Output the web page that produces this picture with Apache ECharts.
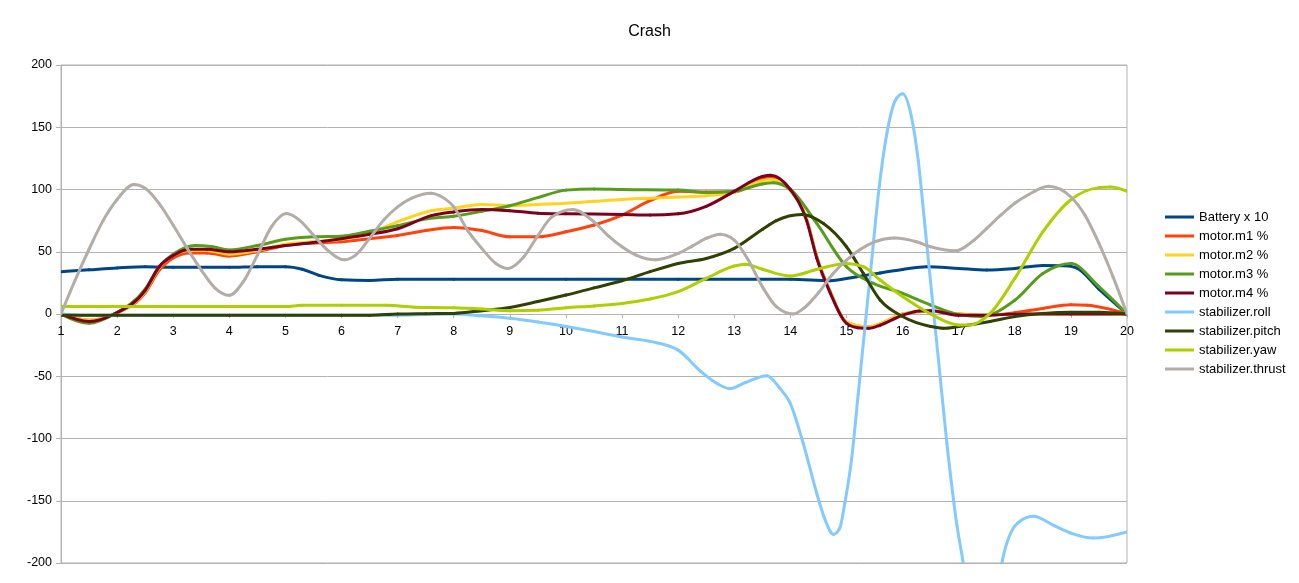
<!DOCTYPE html>
<html>
<head>
<meta charset="utf-8">
<script src="https://cdn.jsdelivr.net/npm/echarts@6/dist/echarts.min.js"></script>
<style>
html,body{margin:0;padding:0;background:#fff;}
#c{width:1299px;height:583px;}
</style>
</head>
<body>
<div id="c"></div>
<script>
var xTicks = {min: 1, max: 20, interval: 1};
var yTicks = {min: -200, max: 200, interval: 50};
var seriesNames = ['Battery x 10','motor.m1 %','motor.m2 %','motor.m3 %','motor.m4 %','stabilizer.roll','stabilizer.pitch','stabilizer.yaw','stabilizer.thrust'];

var battery = [[1,34],[1.5,35.5],[2,37],[2.5,38],[3,37.5],[4,37.5],[4.5,38],[5,38],[5.3,36],[5.6,31],[6,27.5],[6.5,27],[7,28],[8,28],[10,28],[12,28],[14,28],[14.71,26.7],[15.18,30],[15.6,33],[16,35.8],[16.43,38],[17,36.6],[17.5,35.3],[18,36.6],[18.5,39],[18.9,38.8],[19.1,37],[19.5,20],[20,0]];
var m1 = [[1,0],[1.5,-5],[1.95,0],[2.5,17],[2.75,35],[3,45],[3.3,49],[3.6,49],[4,46.5],[4.5,50],[5,55],[5.5,57],[6,58],[6.5,60.5],[7,63],[7.5,67],[8,69.5],[8.5,67],[9,62],[9.5,62],[10,66],[10.5,71.5],[11,79.5],[11.5,91],[12,98.5],[12.5,98],[13,98],[13.5,109],[13.65,110],[14,99.5],[14.29,76],[14.47,46],[14.71,18],[15,-6.5],[15.4,-10.5],[15.6,-8],[16,0],[16.5,2.5],[17,0],[17.5,-1],[18,1],[18.5,4.5],[19,7.5],[19.3,7],[20,0]];
var m2 = [[1,0],[1.5,-5],[1.95,0],[2.5,18],[2.75,37],[3,47],[3.3,51],[3.6,51],[4,48],[4.5,51],[5,56],[5.5,58],[6,60],[6.5,65],[7,74],[7.6,83],[8,85],[8.5,88],[9,87],[9.5,88],[10,89],[10.5,90.5],[11,92],[11.5,93],[12,94],[12.5,95],[13,98],[13.5,107],[13.65,108],[14,99.5],[14.29,76],[14.47,46],[14.71,18],[15,-6.5],[15.4,-10.5],[15.6,-8],[16,0],[16.5,2.5],[17,0],[17.5,-1],[18,0],[19,0],[20,0]];
var m3 = [[1,0],[1.5,-7.5],[1.95,0],[2.5,20],[2.75,38],[3,48],[3.4,55],[3.7,54],[4,51.5],[4.5,55],[5,60],[5.5,62],[6,62.5],[6.5,66.5],[7,71],[7.6,77],[8,78.5],[8.5,82.5],[9,87],[9.5,93.5],[10,99.5],[10.5,100.5],[11,100],[12,99.5],[12.5,97.5],[13,98.5],[13.5,104.5],[13.7,105.5],[14,100],[14.47,72.7],[15,38],[15.48,24.6],[16,16.6],[16.5,7.2],[17,-0.5],[17.4,-2],[18,11],[18.5,32.5],[19,40.5],[19.5,22],[20,0]];
var m4 = [[1,0],[1.5,-6],[1.95,0],[2.5,19],[2.75,38],[3,47],[3.3,52],[3.6,52],[4,50],[4.5,52],[5,55],[5.5,57.5],[6,60.5],[6.5,64],[7,68.5],[7.6,79],[8,82],[8.5,84],[9,83],[9.5,81],[10,80.5],[11,80],[11.5,79.5],[12,80.5],[12.5,86.5],[13,98.5],[13.5,110.5],[13.65,111.5],[14,100],[14.29,75],[14.47,45],[14.71,17],[15,-7.5],[15.2,-11],[15.4,-11.5],[15.6,-9],[16,-1],[16.3,2.5],[16.5,2.7],[17,-1],[17.5,-1],[18,0],[19,0],[20,0]];
var roll = [[1,0],[1.5,-1],[3,-1],[5,-1],[6,-1],[7,-1],[8,0],[8.5,-1.5],[9,-3.5],[9.5,-6.5],[10,-10],[10.5,-14],[11,-18.5],[11.5,-22],[12,-29],[12.4,-46],[12.7,-56],[12.92,-60],[13.2,-55],[13.58,-49.5],[13.8,-59],[13.99,-71],[14.23,-104],[14.47,-144],[14.6,-163],[14.77,-177],[14.88,-172],[14.97,-152],[15.09,-117],[15.21,-64],[15.33,-10],[15.45,43],[15.57,97],[15.72,145],[15.87,171.5],[16,177],[16.16,158],[16.28,123],[16.4,70],[16.52,16.6],[16.64,-37],[16.79,-104],[16.97,-170],[17.08,-200],[17.25,-262],[17.42,-285],[17.6,-262],[17.77,-200],[18.05,-168],[18.33,-162.5],[18.7,-170],[19,-176],[19.4,-180],[20,-175]];
var pitch = [[1,-1],[2,-1],[4,-1],[6,-1],[6.5,-1],[7,0],[7.5,0.3],[8,0.5],[8.5,2.7],[9,5.3],[9.5,10],[10,15.2],[10.5,21],[11,26.7],[11.5,34],[12,40.6],[12.5,44.6],[13,52.7],[13.5,67.9],[13.75,75],[14.2,80],[14.59,72.7],[15,54],[15.3,32.6],[15.6,11.2],[16,-2],[16.5,-10],[16.73,-11.5],[17,-10],[17.56,-6],[18,-2.1],[18.5,0.5],[19,1.5],[19.5,1.5],[20,0]];
var yaw = [[1,6],[2,6],[3,6],[4,6],[5,6],[5.3,7],[6,7],[6.8,7],[7.3,5.5],[8,5],[8.5,4],[9,2.7],[9.5,3],[10,5],[10.5,6.5],[11,8.5],[11.5,12],[12,18],[12.5,28.6],[13,38.5],[13.2,40],[13.5,36],[14,30.5],[14.47,35.8],[15,40.6],[15.3,38],[15.6,27.3],[16,14],[16.5,0],[17,-8.8],[17.2,-8.8],[17.56,0.5],[18,28.6],[18.5,66],[19,91.8],[19.5,101.5],[19.7,102],[20,98.6]];
var thrust = [[1,0],[1.25,27],[1.5,52],[1.75,75],[2,92],[2.3,104],[2.5,101],[2.75,88.7],[3,71.3],[3.25,52.7],[3.5,35.3],[3.75,20.6],[4,15],[4.25,26],[4.5,47.3],[4.75,70],[5.02,80.7],[5.25,75.4],[5.5,63.3],[5.75,51.3],[6.05,43.5],[6.25,47.3],[6.5,60.7],[6.75,75.4],[7,86],[7.25,93],[7.6,97],[7.75,95],[8,86],[8.25,67],[8.5,52.7],[8.75,40.6],[8.97,36.6],[9.25,46],[9.5,63],[9.75,78],[10.12,84],[10.5,74],[10.75,63],[11,54],[11.25,47.3],[11.6,43.5],[12,48.6],[12.25,54.5],[12.5,60.7],[12.75,64],[13,59.3],[13.25,43.3],[13.5,22],[13.75,5.9],[14.05,0],[14.25,5],[14.5,17],[14.75,32],[15,43.3],[15.25,52],[15.5,58],[15.85,61],[16.25,58],[16.5,54],[16.95,50.8],[17.25,58.5],[17.5,68.7],[17.75,79.4],[18,89],[18.25,96],[18.6,102.6],[19,94],[19.25,79.4],[19.5,56.7],[19.75,30],[20,0]];

var seriesData = [battery, m1, m2, m3, m4, roll, pitch, yaw, thrust];
var colors = ['#004586','#ff420e','#ffd320','#579d1c','#7e0021','#83caff','#314004','#aecf00','#b3ada7'];
var FONT = 'Liberation Sans, Arial, sans-serif';

// monotone cubic (Fritsch-Carlson style) tangents through pixel points
function tangents(P) {
  var n = P.length, t = new Array(n), i;
  for (i = 1; i < n - 1; i++) {
    var h0 = P[i][0] - P[i-1][0], h1 = P[i+1][0] - P[i][0];
    var s0 = (P[i][1] - P[i-1][1]) / h0, s1 = (P[i+1][1] - P[i][1]) / h1;
    var p = (s0 * h1 + s1 * h0) / (h0 + h1);
    var sg = (s0 < 0 ? -1 : 1) + (s1 < 0 ? -1 : 1);
    t[i] = sg * Math.min(Math.abs(s0), Math.abs(s1), 0.5 * Math.abs(p)) || 0;
  }
  if (n > 2) {
    var ha = P[1][0] - P[0][0];
    t[0] = (3 * (P[1][1] - P[0][1]) / ha - t[1]) / 2;
    var hb = P[n-1][0] - P[n-2][0];
    t[n-1] = (3 * (P[n-1][1] - P[n-2][1]) / hb - t[n-2]) / 2;
  } else {
    t[0] = t[1] = (P[1][1] - P[0][1]) / (P[1][0] - P[0][0]);
  }
  return t;
}

function makeSeries(name, pts, color) {
  return {
    name: name, type: 'custom', coordinateSystem: 'cartesian2d',
    xAxisIndex: 0, yAxisIndex: 0, clip: true,
    data: pts, encode: {x: 0, y: 1},
    itemStyle: {color: color},
    renderItem: function (params, api) {
      if (params.dataIndex !== 0) return null;
      var P = pts.map(function (d) { return api.coord(d); });
      var t = tangents(P);
      var children = [];
      for (var i = 0; i < P.length - 1; i++) {
        var dx = (P[i+1][0] - P[i][0]) / 3;
        children.push({
          type: 'bezierCurve', silent: true,
          shape: {
            x1: P[i][0], y1: P[i][1],
            cpx1: P[i][0] + dx, cpy1: P[i][1] + dx * t[i],
            cpx2: P[i+1][0] - dx, cpy2: P[i+1][1] - dx * t[i+1],
            x2: P[i+1][0], y2: P[i+1][1]
          },
          style: {stroke: color, lineWidth: 3, fill: null, lineCap: 'round'}
        });
      }
      return {type: 'group', children: children};
    }
  };
}

var chart = echarts.init(document.getElementById('c'), null, {renderer: 'canvas'});
chart.setOption({
  animation: false,
  color: colors,
  title: {
    text: 'Crash', left: 'center', top: 19,
    textStyle: {fontFamily: FONT, fontSize: 16, fontWeight: 'normal', color: '#000'}
  },
  legend: {
    orient: 'vertical', left: 1160, top: 205,
    icon: 'rect', itemWidth: 29, itemHeight: 3, itemGap: 5,
    textStyle: {fontFamily: FONT, fontSize: 13, color: '#000', lineHeight: 14},
    data: seriesNames
  },
  grid: [
    {left: 61, right: 172, top: 65, bottom: 20, show: true, borderColor: '#b3b3b3', borderWidth: 1},
    {left: 61, right: 172, top: 65, bottom: 269, show: false}
  ],
  xAxis: [{
    type: 'value', gridIndex: 0, min: xTicks.min, max: xTicks.max, interval: xTicks.interval,
    axisLine: {show: false}, axisTick: {show: false}, axisLabel: {show: false},
    splitLine: {show: false}
  }, {
    type: 'value', gridIndex: 1, min: xTicks.min, max: xTicks.max, interval: xTicks.interval,
    axisLine: {show: true, onZero: false, lineStyle: {color: '#b3b3b3', width: 1}},
    axisTick: {show: true, length: 4, lineStyle: {color: '#b3b3b3'}},
    splitLine: {show: false},
    axisLabel: {fontFamily: FONT, fontSize: 12.5, color: '#000', margin: 11}
  }],
  yAxis: [{
    type: 'value', gridIndex: 0, min: yTicks.min, max: yTicks.max, interval: yTicks.interval,
    axisLine: {show: true, lineStyle: {color: '#b3b3b3', width: 1}},
    axisTick: {show: true, length: 5, lineStyle: {color: '#b3b3b3'}},
    splitLine: {show: true, lineStyle: {color: '#b3b3b3', width: 1}},
    axisLabel: {fontFamily: FONT, fontSize: 12.5, color: '#000', margin: 9}
  }, {
    type: 'value', gridIndex: 1, min: 0, max: 1, show: false
  }],
  series: seriesNames.map(function (n, i) { return makeSeries(n, seriesData[i], colors[i]); })
});
</script>
</body>
</html>
